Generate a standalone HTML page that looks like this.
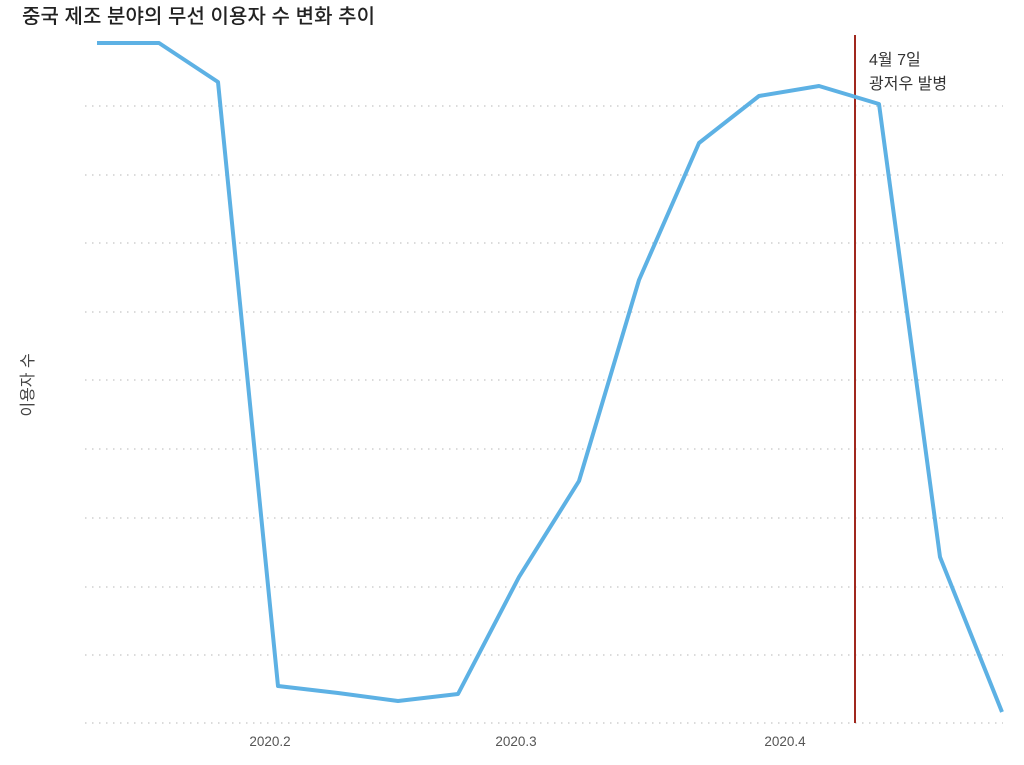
<!DOCTYPE html><html><head><meta charset="utf-8"><style>body{margin:0;background:#fff}</style></head><body>
<svg width="1024" height="760" xmlns="http://www.w3.org/2000/svg" font-family="'Liberation Sans','Noto Sans CJK KR',sans-serif">
<text x="22" y="23" font-size="20" font-weight="500" fill="#222" textLength="353">중국 제조 분야의 무선 이용자 수 변화 추이</text>
<g stroke="#cfcfcf" stroke-width="1.5" stroke-dasharray="1.5 5.5">
<line x1="85" x2="1003" y1="106" y2="106"/><line x1="85" x2="1003" y1="175" y2="175"/><line x1="85" x2="1003" y1="243" y2="243"/><line x1="85" x2="1003" y1="312" y2="312"/><line x1="85" x2="1003" y1="380" y2="380"/><line x1="85" x2="1003" y1="449" y2="449"/><line x1="85" x2="1003" y1="518" y2="518"/><line x1="85" x2="1003" y1="587" y2="587"/><line x1="85" x2="1003" y1="655" y2="655"/><line x1="85" x2="1003" y1="723" y2="723"/>
</g>
<line x1="855" x2="855" y1="35" y2="723" stroke="#a0281e" stroke-width="2"/>
<polyline fill="none" stroke="#5db1e4" stroke-width="4" stroke-linejoin="round" points="97,43 159,43 218,82 278,686 338,693 398,701 458,694 519,577 579,481 639,280 699,143 759,96 819,86 879,104 940,557 1002,712"/>
<text x="869" y="65" font-size="16" fill="#333">4월 7일</text>
<text x="869" y="89" font-size="16" fill="#333">광저우 발병</text>
<g font-size="13.5" fill="#555" text-anchor="middle">
<text x="270" y="746">2020.2</text><text x="516" y="746">2020.3</text><text x="785" y="746">2020.4</text>
</g>
<text transform="translate(33,385) rotate(-90)" font-size="16" fill="#444" text-anchor="middle">이용자 수</text>
</svg></body></html>
